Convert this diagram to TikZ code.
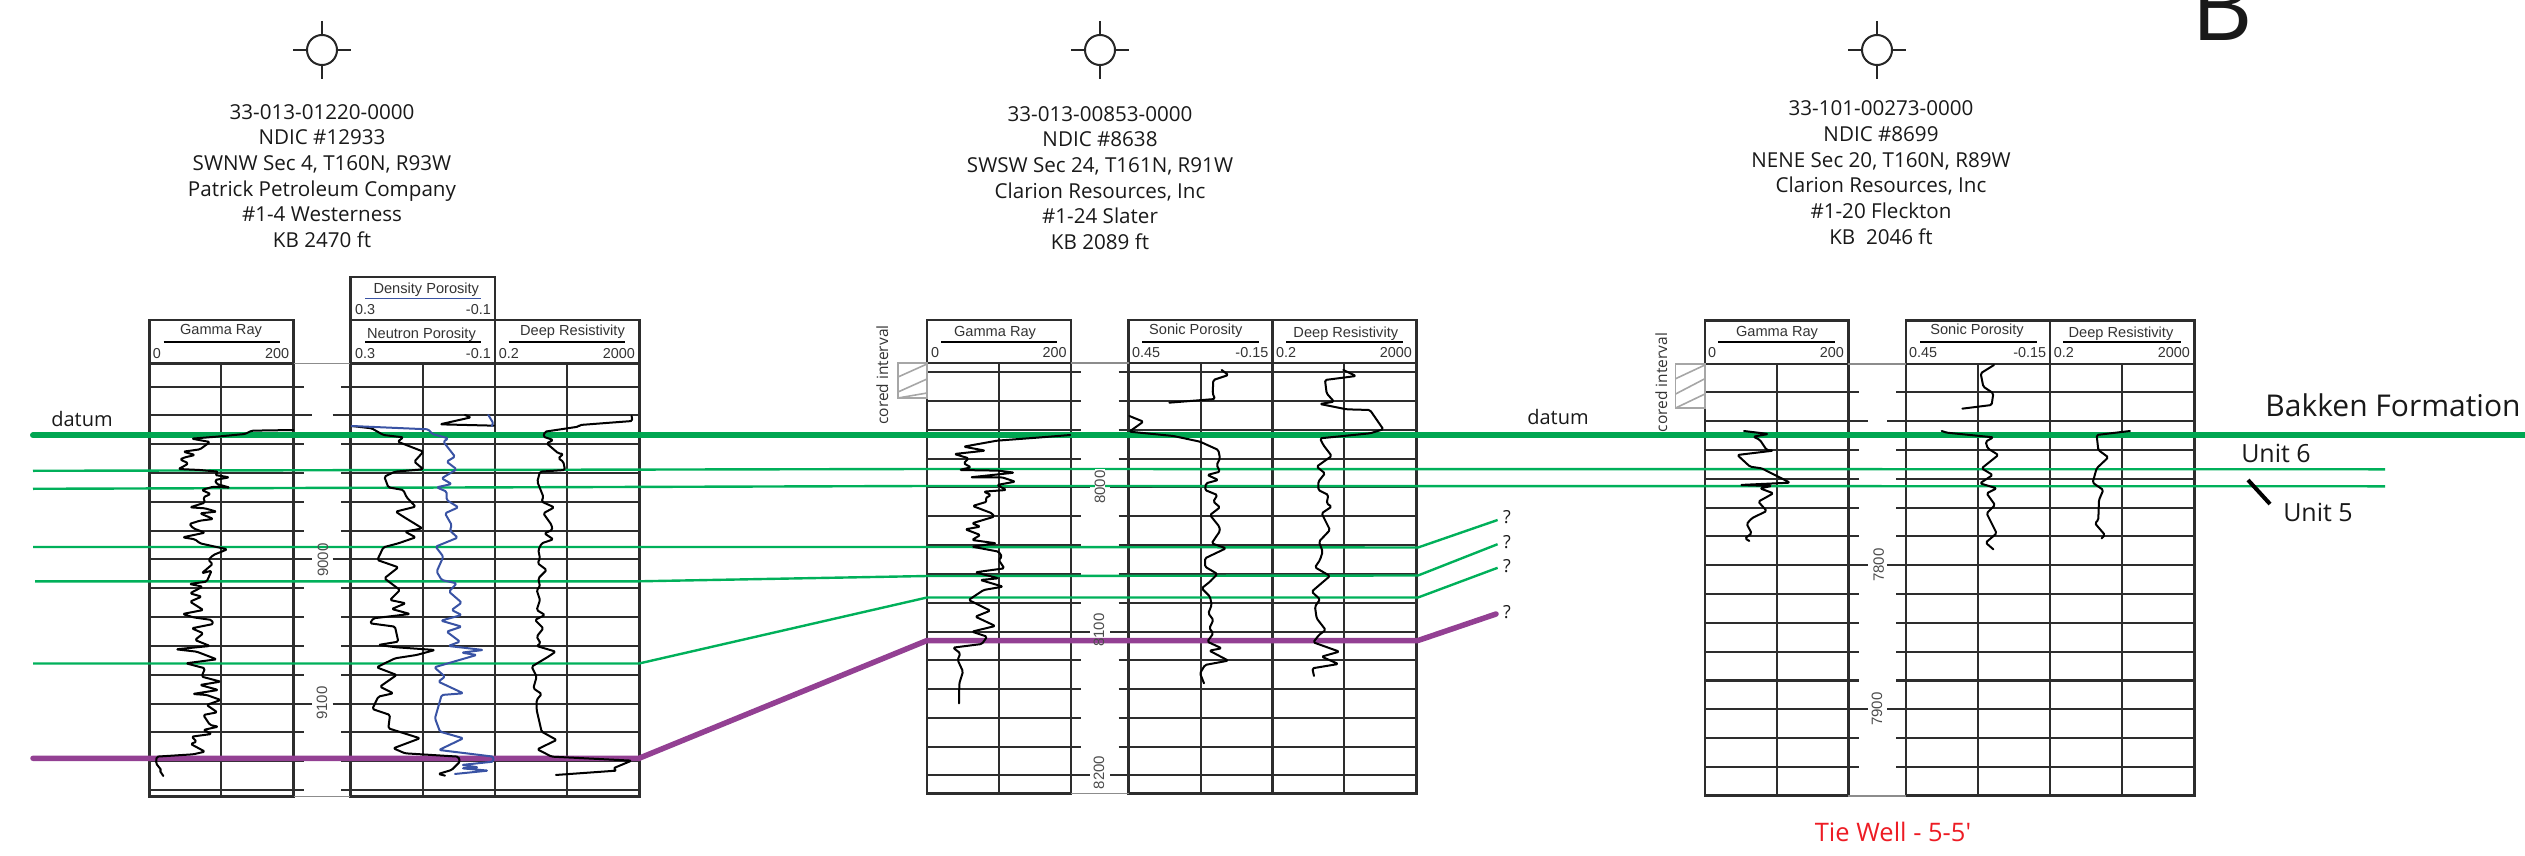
\documentclass[tikz,border=0pt]{standalone}
\usepackage{fontspec}
\setmainfont{Open Sans}
\newfontfamily\logfont{Liberation Sans}
\usetikzlibrary{positioning}
\definecolor{datumgreen}{RGB}{0,166,81}
\definecolor{unitgreen}{RGB}{0,176,90}
\definecolor{basepurple}{RGB}{147,64,147}
\definecolor{porosityblue}{RGB}{57,83,164}
\definecolor{griddark}{RGB}{45,45,45}
\definecolor{tiered}{RGB}{237,28,36}

\tikzset{
  frameline/.style={draw=griddark,line width=2.6pt},
  gridline/.style={griddark,line width=2.2pt},
  connline/.style={black!45,line width=1.6pt},
  underline/.style={black,line width=1.5pt},
  curve/.style={black,line width=2pt,line join=round,line cap=round,rounded corners=1.5pt},
  bluecurve/.style={porosityblue,line width=2pt,line join=round,line cap=round,rounded corners=1.5pt},
  unitline/.style={unitgreen,line width=2.4pt,line join=round},
  datumline/.style={datumgreen,line width=6pt,line cap=round},
  baseline/.style={basepurple,line width=5.5pt,line cap=round,line join=round},
  corebox/.style={black!35,line width=1.6pt},
  wellsym/.style={black!85,line width=2pt},
  welltext/.style={font=\fontsize{20.6}{25.7}\selectfont,align=center,text=black!90,inner sep=0pt},
  loghead/.style={font=\logfont\fontsize{14.6}{14.6}\selectfont,text=black!80,inner sep=0pt},
  logscale/.style={font=\logfont\fontsize{14.4}{14.4}\selectfont,text=black!80,inner sep=0pt},
  depthlabel/.style={font=\logfont\fontsize{15}{15}\selectfont,text=black!70,rotate=90,inner sep=0pt},
  corelabel/.style={font=\fontsize{15.5}{15.5}\selectfont,text=black!80,rotate=90,inner sep=0pt},
  sidelabel/.style={inner sep=0pt,text=black!90},
  crop/.style 2 args={shift={(#1,#2)},x=0.3333pt,y=-0.3333pt},
}

\begin{document}
\begin{tikzpicture}[x=1pt,y=-1pt]
    \useasboundingbox (0,0) rectangle (2525,856);

    % Well symbols
    \foreach \sx in {322,1100,1877} {
        \draw[wellsym] (\sx,50) circle (15);
        \draw[wellsym] (\sx-29,50) -- (\sx-15,50);
        \draw[wellsym] (\sx+15,50) -- (\sx+29,50);
        \draw[wellsym] (\sx,21) -- (\sx,35);
        \draw[wellsym] (\sx,65) -- (\sx,79);
    }

    % Well headers
    \node[welltext] (head1) at (322,176) {33-013-01220-0000\\NDIC \#12933\\SWNW Sec 4, T160N, R93W\\Patrick Petroleum Company\\\#1-4 Westerness\\KB 2470 ft};
    \node[welltext] (head2) at (1100,178) {33-013-00853-0000\\NDIC \#8638\\SWSW Sec 24, T161N, R91W\\Clarion Resources, Inc\\\#1-24 Slater\\KB 2089 ft};
    \node[welltext] (head3) at (1881,172.5) {33-101-00273-0000\\NDIC \#8699\\NENE Sec 20, T160N, R89W\\Clarion Resources, Inc\\\#1-20 Fleckton\\KB\ \ 2046 ft};
    \node[sidelabel,anchor=base,font=\fontsize{95}{95}\selectfont] (sectionb) at (2222,40.7) {B};

    % Well 1 tracks
    \draw[frameline] (149.2,320) rectangle (293.6,796.6);
    \draw[frameline] (350.4,320) rectangle (494.9,796.6);
    \draw[frameline] (494.9,320) rectangle (639.3,796.6);
    \draw[frameline] (350.4,276.8) rectangle (494.9,320);
    \draw[frameline] (149.2,363.6) -- (293.6,363.6);
    \draw[frameline] (350.4,363.6) -- (639.3,363.6);
    \foreach \mx in {221.2,422.9,566.8} {
        \draw[gridline] (\mx,363.6) -- (\mx,796.6);
    }
    \draw[connline] (293.6,363.6) -- (350.4,363.6);
    \draw[connline] (293.6,796.6) -- (350.4,796.6);
    \foreach \gy in {386.8,444,472.7,501.7,530.7,588.3,617,646,674.7,732.3,761,789.7} {
        \draw[gridline] (149.2,\gy) -- (304,\gy);
        \draw[gridline] (341,\gy) -- (639.3,\gy);
    }
    \foreach \gy in {415.3,559.3,703.7} {
        \draw[gridline] (149.2,\gy) -- (312,\gy);
        \draw[gridline] (332.5,\gy) -- (639.3,\gy);
    }

    % Well 2 tracks
    \draw[frameline] (927,320) rectangle (1071,793.4);
    \draw[frameline] (1128.7,320) rectangle (1272.3,793.4);
    \draw[frameline] (1272.3,320) rectangle (1416.7,793.4);
    \draw[frameline] (927,363) -- (1071,363);
    \draw[frameline] (1128.7,363) -- (1416.7,363);
    \foreach \mx in {998.7,1201,1344.3} {
        \draw[gridline] (\mx,363) -- (\mx,793.4);
    }
    \draw[connline] (1071,363) -- (1128.7,363);
    \draw[connline] (1071,793.4) -- (1128.7,793.4);
    \foreach \gy in {371.7,401,430,458.7,516,545,574,602.7,660.3,689,718,746.7} {
        \draw[gridline] (927,\gy) -- (1081.3,\gy);
        \draw[gridline] (1118.7,\gy) -- (1416.7,\gy);
    }
    \foreach \gy in {487.3,631.7,775.3} {
        \draw[gridline] (927,\gy) -- (1090,\gy);
        \draw[gridline] (1110,\gy) -- (1416.7,\gy);
    }
    \draw[corebox] (898,363) rectangle (927,398);
    \draw[corebox] (898,377) -- (927,364);
    \draw[corebox] (898,392) -- (927,379);
    \draw[corebox] (898,398) -- (927,393);

    % Well 3 tracks
    \draw[frameline] (1704.9,320.2) rectangle (1848.3,795.7);
    \draw[frameline] (1906,320.2) rectangle (2050,795.7);
    \draw[frameline] (2050,320.2) rectangle (2194.2,795.7);
    \draw[frameline] (1704.9,364) -- (1848.3,364);
    \draw[frameline] (1906,364) -- (2194.2,364);
    \foreach \mx in {1776.7,1978.3,2122.3} {
        \draw[gridline] (\mx,364) -- (\mx,795.7);
    }
    \draw[connline] (1848.3,364) -- (1906,364);
    \draw[connline] (1848.3,795.7) -- (1906,795.7);
    \foreach \gy in {392.3,450,479,507.7,536.3,594.3,623,651.8,680.5,738.3,767} {
        \draw[gridline] (1704.9,\gy) -- (1858.7,\gy);
        \draw[gridline] (1896,\gy) -- (2194.2,\gy);
    }
    \foreach \gy in {421,565.2,709.2} {
        \draw[gridline] (1704.9,\gy) -- (1867.7,\gy);
        \draw[gridline] (1887.3,\gy) -- (2194.2,\gy);
    }
    \draw[corebox] (1675.6,363.8) rectangle (1704.9,408);
    \draw[corebox] (1675.6,378.7) -- (1704.9,365);
    \draw[corebox] (1675.6,394) -- (1704.9,378.7);
    \draw[corebox] (1675.6,408) -- (1704.9,394);

    % Correlation lines
    \draw[unitline] (33,470.8) -- (927,469) -- (2385,469.3);
    \draw[unitline] (33,488.8) -- (927,486) -- (2385,486.3);
    \draw[unitline] (33,547) -- (927,547) -- (1418,547.5) -- (1497.6,520);
    \draw[unitline] (35,581.3) -- (639,581.3) -- (927,576) -- (1418,575.5) -- (1497.6,544.2);
    \draw[unitline] (33,663.5) -- (639,663.5) -- (927,597.5) -- (1418,597.5) -- (1497.6,567.8);
    \draw[datumline] (33,435.3) -- (2530,435.3);
    \draw[baseline] (33,758.3) -- (639,758.3) -- (927,640.5) -- (1418,640.5) -- (1496,614);
    \draw[black,line width=4pt] (2248,480) -- (2270,504);

    % Well 1 curves
    \begin{scope}[crop={150}{420}]
        \draw[curve] (430,30) -- (305,32) -- (285,42) -- (200,50) -- (125,56) -- (180,66) -- (150,88) -- (100,95) -- (135,105) -- (105,112) -- (90,118) -- (115,130) -- (103,138) -- (85,147) -- (150,150) -- (205,155) -- (195,165) -- (238,172) -- (195,180) -- (200,192) -- (240,203) -- (190,200) -- (155,210) -- (182,222) -- (160,232) -- (165,248) -- (120,262) -- (165,265) -- (200,275) -- (150,280) -- (190,297) -- (150,302) -- (118,312) -- (130,325) -- (165,338) -- (98,352) -- (135,358) -- (150,370) -- (195,380) -- (232,388) -- (190,405) -- (175,420) -- (188,432) -- (155,460) -- (185,452) -- (170,485) -- (118,492) -- (158,500) -- (120,520) -- (155,530) -- (120,545) -- (160,570) -- (98,582) -- (130,592) -- (185,600) -- (190,612) -- (125,625) -- (160,640) -- (135,660) -- (180,678) -- (78,688) -- (140,695) -- (200,718) -- (108,730) -- (165,745) -- (155,770) -- (212,785) -- (150,795) -- (205,810) -- (128,822) -- (170,825) -- (212,840) -- (170,855) -- (202,877) -- (160,885) -- (180,915) -- (205,920) -- (160,930) -- (185,942) -- (125,950) -- (140,965) -- (122,972) -- (165,995) -- (130,1003) -- (20,1010) -- (18,1030) -- (35,1052) -- (28,1050) -- (40,1068);
    \end{scope}
    \begin{scope}[crop={345}{410}]
        \draw[curve] (360,15) -- (378,22) -- (285,43) -- (447,47);
        \draw[bluecurve] (430,15) -- (445,40) -- (440,48);
        \draw[curve] (20,48) -- (80,55) -- (115,75) -- (175,82) -- (158,95) -- (235,125) -- (208,155) -- (235,178) -- (150,185) -- (118,200) -- (130,232) -- (175,240) -- (185,262) -- (212,290) -- (152,305) -- (175,320) -- (232,355) -- (180,365) -- (212,382) -- (160,400) -- (115,412) -- (97,450) -- (160,472) -- (118,505) -- (165,540) -- (135,570) -- (182,580) -- (140,597) -- (195,612) -- (85,625) -- (75,640) -- (150,650) -- (160,695) -- (100,705) -- (155,712) -- (270,720) -- (215,735) -- (150,745) -- (95,772) -- (155,795) -- (105,830) -- (145,850) -- (100,860) -- (82,897) -- (135,915) -- (130,955) -- (225,985) -- (145,1015) -- (180,1030) -- (340,1040) -- (345,1055) -- (320,1080) -- (280,1092) -- (300,1097);
        \draw[bluecurve] (20,48) -- (250,58) -- (262,72) -- (310,85) -- (295,95) -- (330,140) -- (305,155) -- (335,178) -- (290,205) -- (320,222) -- (275,232) -- (305,245) -- (305,270) -- (340,292) -- (300,310) -- (320,345) -- (315,362) -- (338,383) -- (272,410) -- (295,440) -- (275,485) -- (290,510) -- (335,520) -- (312,545) -- (350,578) -- (320,600) -- (350,615) -- (288,632) -- (350,650) -- (305,665) -- (345,695) -- (310,708) -- (415,720) -- (350,728) -- (395,735) -- (268,772) -- (300,800) -- (280,815) -- (355,850) -- (290,855) -- (270,925) -- (285,965) -- (355,985) -- (282,1020) -- (445,1040) -- (445,1055) -- (350,1065) -- (400,1072) -- (350,1075) -- (430,1082) -- (330,1092);
        \draw[curve] (860,18) -- (862,33) -- (705,45) -- (700,50) -- (600,65) -- (595,80) -- (625,90) -- (605,100) -- (640,130) -- (655,132) -- (640,145) -- (655,155) -- (660,180) -- (585,185) -- (577,215) -- (595,260) -- (590,275) -- (628,292) -- (595,310) -- (620,345) -- (622,360) -- (598,370) -- (625,388) -- (590,400) -- (580,420) -- (585,445) -- (578,460) -- (605,480) -- (580,505) -- (585,530) -- (575,540) -- (585,570) -- (575,600) -- (600,615) -- (570,630) -- (595,655) -- (575,680) -- (587,700) -- (575,708) -- (632,725) -- (610,740) -- (560,770) -- (575,800) -- (565,835) -- (590,852) -- (575,870) -- (575,900) -- (590,965) -- (635,990) -- (577,1018) -- (620,1040) -- (860,1052) -- (805,1075) -- (815,1082) -- (633,1095);
    \end{scope}

    % Well 2 curves
    \begin{scope}[crop={927}{370}]
        \draw[curve] (430,195) -- (330,203) -- (210,212) -- (110,230) -- (175,242) -- (82,252) -- (125,265) -- (110,280) -- (132,292) -- (97,300) -- (215,302) -- (262,308) -- (130,322) -- (225,322) -- (265,335) -- (210,345) -- (238,360) -- (170,365) -- (192,375) -- (175,385) -- (180,395) -- (137,408) -- (195,430) -- (202,440) -- (135,460) -- (160,470) -- (115,478) -- (160,495) -- (135,510) -- (208,520) -- (135,530) -- (215,545) -- (225,560) -- (215,570) -- (232,595) -- (145,607) -- (215,625) -- (160,630) -- (228,650) -- (170,660) -- (125,690) -- (190,722) -- (145,740) -- (205,768) -- (135,785) -- (180,800) -- (165,822) -- (78,833) -- (100,850) -- (92,870) -- (108,905) -- (97,940) -- (96,1000);
    \end{scope}
    \begin{scope}[crop={1120}{370}]
        \draw[curve] (305,0) -- (325,15) -- (280,30) -- (278,70) -- (285,87) -- (148,98);
        \draw[curve] (28,138) -- (70,155) -- (28,185) -- (160,198) -- (240,215) -- (295,240) -- (300,265) -- (290,285) -- (300,305) -- (262,315) -- (295,330) -- (258,340) -- (255,360) -- (292,375) -- (280,395) -- (300,412) -- (270,435) -- (298,470) -- (300,483) -- (275,520) -- (318,535) -- (255,565) -- (255,590) -- (292,612) -- (270,635) -- (245,655) -- (270,680) -- (275,705) -- (265,730) -- (280,750) -- (268,775) -- (280,790) -- (262,815) -- (305,835) -- (268,842) -- (325,872) -- (255,885) -- (240,910) -- (252,940);
        \draw[curve] (670,0) -- (708,18) -- (615,30) -- (620,70) -- (642,95) -- (600,102) -- (680,118) -- (750,120) -- (790,178) -- (750,190) -- (600,205) -- (610,225) -- (635,258) -- (590,290) -- (615,310) -- (595,335) -- (595,360) -- (625,375) -- (620,400) -- (635,410) -- (605,430) -- (630,480) -- (597,515) -- (608,545) -- (600,570) -- (585,592) -- (630,618) -- (575,665) -- (600,688) -- (585,710) -- (590,745) -- (617,780) -- (597,795) -- (580,817) -- (658,845) -- (605,860) -- (655,882) -- (577,895) -- (582,918);
    \end{scope}

    % Well 3 curves
    \begin{scope}[crop={1720}{360}]
        \draw[curve] (72,213) -- (145,222) -- (100,230) -- (120,240) -- (140,270) -- (160,272) -- (52,285) -- (90,320) -- (125,325) -- (210,368) -- (60,375) -- (155,378) -- (120,385) -- (160,400) -- (115,425) -- (140,453) -- (95,475) -- (80,492) -- (95,520) -- (75,535) -- (88,543);
        \draw[curve] (822,15) -- (782,40) -- (790,80) -- (820,100) -- (815,135) -- (727,146);
        \draw[curve] (665,213) -- (680,218) -- (820,232) -- (797,245) -- (803,265) -- (835,285) -- (785,325) -- (818,345) -- (780,370) -- (830,385) -- (800,400) -- (825,435) -- (800,460) -- (830,520) -- (797,548) -- (820,568);
        \draw[curve] (1230,213) -- (1130,225) -- (1135,270) -- (1165,292) -- (1130,325) -- (1118,368) -- (1150,390) -- (1137,420) -- (1135,480) -- (1125,490) -- (1155,525) -- (1145,535);
    \end{scope}

    % Track headers, well 1
    \node[loghead] (gr1) at (221,331.4) {Gamma Ray};
    \draw[underline] (163.5,342) -- (279.7,342);
    \node[logscale,anchor=west] (gr1min) at (152.7,353.6) {0};
    \node[logscale,anchor=east] (gr1max) at (289.3,353.6) {200};
    \node[loghead] (dp1) at (426.3,289.3) {Density Porosity};
    \draw[porosityblue,line width=1.5pt] (365,298.6) -- (480.5,298.6);
    \node[logscale,anchor=west] (dp1min) at (354.8,310) {0.3};
    \node[logscale,anchor=east] (dp1max) at (491,310) {-0.1};
    \node[loghead] (np1) at (421.5,334.3) {Neutron Porosity};
    \draw[underline] (365,342) -- (480.5,342);
    \node[logscale,anchor=west] (np1min) at (354.8,353.6) {0.3};
    \node[logscale,anchor=east] (np1max) at (491,353.6) {-0.1};
    \node[loghead] (dr1) at (572.5,331.4) {Deep Resistivity};
    \draw[underline] (508.7,342) -- (625.4,342);
    \node[logscale,anchor=west] (dr1min) at (498.7,353.6) {0.2};
    \node[logscale,anchor=east] (dr1max) at (635,353.6) {2000};

    % Track headers, well 2
    \node[loghead] (gr2) at (995,333) {Gamma Ray};
    \draw[underline] (941,342) -- (1057.4,342);
    \node[logscale,anchor=west] (gr2min) at (931,353) {0};
    \node[logscale,anchor=east] (gr2max) at (1066.8,353) {200};
    \node[loghead] (sp2) at (1195.8,331) {Sonic Porosity};
    \draw[underline] (1142,342) -- (1258.7,342);
    \node[logscale,anchor=west] (sp2min) at (1132,353) {0.45};
    \node[logscale,anchor=east] (sp2max) at (1268.5,353) {-0.15};
    \node[loghead] (dr2) at (1345.8,334) {Deep Resistivity};
    \draw[underline] (1286.4,342) -- (1402.5,342);
    \node[logscale,anchor=west] (dr2min) at (1276,353) {0.2};
    \node[logscale,anchor=east] (dr2max) at (1412,353) {2000};

    % Track headers, well 3
    \node[loghead] (gr3) at (1777,333) {Gamma Ray};
    \draw[underline] (1718,341.8) -- (1834.7,341.8);
    \node[logscale,anchor=west] (gr3min) at (1708,353) {0};
    \node[logscale,anchor=east] (gr3max) at (1844,353) {200};
    \node[loghead] (sp3) at (1977,331) {Sonic Porosity};
    \draw[underline] (1920,341.8) -- (2036.8,341.8);
    \node[logscale,anchor=west] (sp3min) at (1909,353) {0.45};
    \node[logscale,anchor=east] (sp3max) at (2046.4,353) {-0.15};
    \node[loghead] (dr3) at (2121,333.3) {Deep Resistivity};
    \draw[underline] (2063,341.8) -- (2180.7,341.8);
    \node[logscale,anchor=west] (dr3min) at (2053.7,353) {0.2};
    \node[logscale,anchor=east] (dr3max) at (2190,353) {2000};

    % Depth labels
    \node[depthlabel] (d9000) at (323,560) {9000};
    \node[depthlabel] (d9100) at (322,703) {9100};
    \node[depthlabel,fill=white,inner xsep=1pt] (d8000) at (1100,487) {8000};
    \node[depthlabel] (d8100) at (1099,630) {8100};
    \node[depthlabel] (d8200) at (1099,772.5) {8200};
    \node[depthlabel] (d7800) at (1878.7,565) {7800};
    \node[depthlabel] (d7900) at (1877,709) {7900};
    \node[corelabel] (core2) at (882.4,375) {cored interval};
    \node[corelabel] (core3) at (1661.4,382.5) {cored interval};

    % Side labels
    \node[sidelabel,font=\fontsize{20}{20}\selectfont] (datum1) at (82,419) {datum};
    \node[sidelabel,font=\fontsize{20}{20}\selectfont] (datum2) at (1558,417) {datum};
    \node[sidelabel,font=\fontsize{30}{30}\selectfont] (bakken) at (2393,405) {Bakken Formation};
    \node[sidelabel,font=\fontsize{25}{25}\selectfont] (unit6) at (2276,453) {Unit 6};
    \node[sidelabel,font=\fontsize{25}{25}\selectfont] (unit5) at (2318,512) {Unit 5};
    \foreach \qy/\qn in {517/a,542/b,566/c,612/d} {
        \node[sidelabel,font=\fontsize{18}{18}\selectfont] (q\qn) at (1507,\qy) {?};
    }
    \node[sidelabel,font=\fontsize{25.5}{25.5}\selectfont,text=tiered] (tiewell) at (1893,832) {Tie Well - 5-5′};
\end{tikzpicture}
\end{document}
